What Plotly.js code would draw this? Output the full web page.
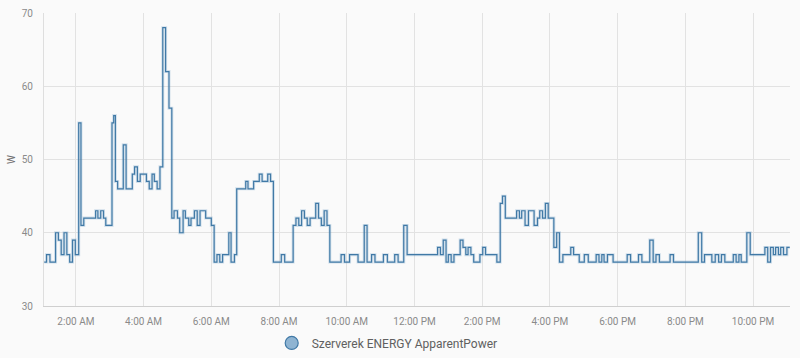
<!DOCTYPE html>
<html>
<head>
<meta charset="utf-8">
<script src="https://cdn.plot.ly/plotly-3.0.1.min.js"></script>
<style>
  html, body { margin: 0; padding: 0; background: #fafafa; }
  #chart { width: 800px; height: 358px; }
</style>
</head>
<body>
<div id="chart"></div>
<script>
// Data (step chart, one day)
const day = "2024-01-01";
const seriesName = "Szerverek ENERGY ApparentPower";
const unit = "W";

const times = [
  "01:04","01:08","01:14","01:24","01:29","01:34","01:39","01:44","01:49","01:54",
  "01:59","02:05","02:09","02:14","02:35","02:39","02:44","02:49","02:53","03:04",
  "03:07","03:10","03:14","03:24","03:29","03:40","03:44","03:49","03:54","04:05",
  "04:10","04:15","04:19","04:24","04:29","04:34","04:39","04:45","04:50","04:54",
  "05:00","05:04","05:10","05:14","05:20","05:24","05:30","05:35","05:40","05:50",
  "06:00","06:05","06:10","06:15","06:20","06:31","06:35","06:41","06:45","07:01",
  "07:05","07:15","07:25","07:30","07:40","07:45","07:50","08:04","08:10","08:25",
  "08:30","08:35","08:40","08:45","08:50","08:55","09:05","09:10","09:15","09:20",
  "09:25","09:30","09:50","09:56","10:05","10:20","10:31","10:36","10:44","10:50",
  "11:05","11:12","11:25","11:31","11:41","11:47","12:41","12:46","12:51","12:56",
  "13:00","13:05","13:10","13:21","13:26","13:31","13:35","13:40","13:45","13:56",
  "14:01","14:06","14:26","14:32","14:36","14:41","15:01","15:06","15:10","15:16",
  "15:22","15:32","15:38","15:42","15:47","15:52","15:57","16:07","16:12","16:17",
  "16:23","16:37","16:42","16:52","17:01","17:08","17:22","17:27","17:32","17:36",
  "17:42","17:52","18:17","18:23","18:37","18:43","18:57","19:03","19:08","19:14",
  "19:33","19:39","20:23","20:29","20:34","20:47","20:53","20:59","21:04","21:10",
  "21:25","21:30","21:35","21:39","21:49","21:55","22:21","22:26","22:31","22:36",
  "22:40","22:45","22:49","22:54","23:00","23:05"
];

const power = [
  36,37,36,40,39,37,40,37,36,39,
  37,55,41,42,43,42,43,42,41,55,
  56,47,46,52,46,48,49,47,48,47,
  46,48,47,46,49,68,62,57,42,43,
  42,40,43,42,41,42,43,41,43,42,
  41,36,37,36,37,40,36,37,46,47,
  46,47,48,47,48,47,36,37,36,41,
  42,41,43,42,41,42,44,42,41,43,
  41,36,37,36,37,36,41,36,37,36,
  37,36,37,36,41,37,38,37,39,36,
  37,36,37,39,38,37,38,37,36,37,
  38,37,36,44,45,42,43,42,43,41,
  43,41,42,43,42,44,42,38,40,36,
  37,38,37,36,37,36,37,36,37,36,
  37,36,37,36,37,36,39,36,37,36,
  37,36,40,36,37,36,37,36,37,36,
  37,36,37,36,40,37,38,36,38,37,
  38,37,38,37,38,38
];

const xRange = ["01:03:30", "23:05:30"];
const yRange = [30, 70];
const tickStart = "00:00";

const x = times.map(t => day + " " + t);

const lineColor = "#4079a6";

const halo = {
  x: x, y: power, type: "scatter", mode: "lines",
  line: { shape: "hv", color: "rgba(70,130,180,0.22)", width: 3 },
  hoverinfo: "skip", showlegend: false
};
const core = {
  x: x, y: power, type: "scatter", mode: "lines",
  line: { shape: "hv", color: lineColor, width: 1.2 },
  name: seriesName, showlegend: false
};
const legendItem = {
  x: [null], y: [null], type: "scatter", mode: "markers",
  name: seriesName,
  marker: { size: 13, color: "#8fb4d2", line: { color: lineColor, width: 1.2 } },
  showlegend: true, hoverinfo: "skip"
};

const layout = {
  width: 800, height: 358,
  margin: { l: 44, r: 10, t: 13, b: 52 },
  paper_bgcolor: "#fafafa",
  plot_bgcolor: "#fafafa",
  font: { family: "Roboto, 'Noto Sans', sans-serif", size: 10, color: "#8a8a8a" },
  showlegend: true,
  legend: {
    orientation: "h",
    xref: "container", yref: "container",
    x: 0.484, xanchor: "center",
    y: 0.042, yanchor: "middle",
    font: { size: 12, color: "#606060" },
    bgcolor: "rgba(0,0,0,0)"
  },
  xaxis: {
    type: "date",
    range: xRange.map(t => day + " " + t),
    tick0: day + " " + tickStart,
    dtick: 2 * 3600 * 1000,
    tickformat: "%-I:%M %p",
    showgrid: true, gridcolor: "#e2e2e2", gridwidth: 1,
    showline: true, linecolor: "#cfcfcf", linewidth: 1,
    zeroline: false,
    ticks: "", ticklabelstandoff: 6,
    tickfont: { size: 10, color: "#8a8a8a" },
    fixedrange: true
  },
  yaxis: {
    range: yRange,
    dtick: 10,
    showgrid: true, gridcolor: "#e2e2e2", gridwidth: 1,
    showline: true, linecolor: "#dedede", linewidth: 1,
    zeroline: false,
    ticks: "", ticklabelstandoff: 8,
    tickfont: { size: 10, color: "#8a8a8a" },
    title: { text: unit, font: { size: 10, color: "#707070" }, standoff: 4 },
    automargin: false,
    fixedrange: true
  }
};

Plotly.newPlot("chart", [halo, core, legendItem], layout, { displayModeBar: false, staticPlot: true });
</script>
</body>
</html>
